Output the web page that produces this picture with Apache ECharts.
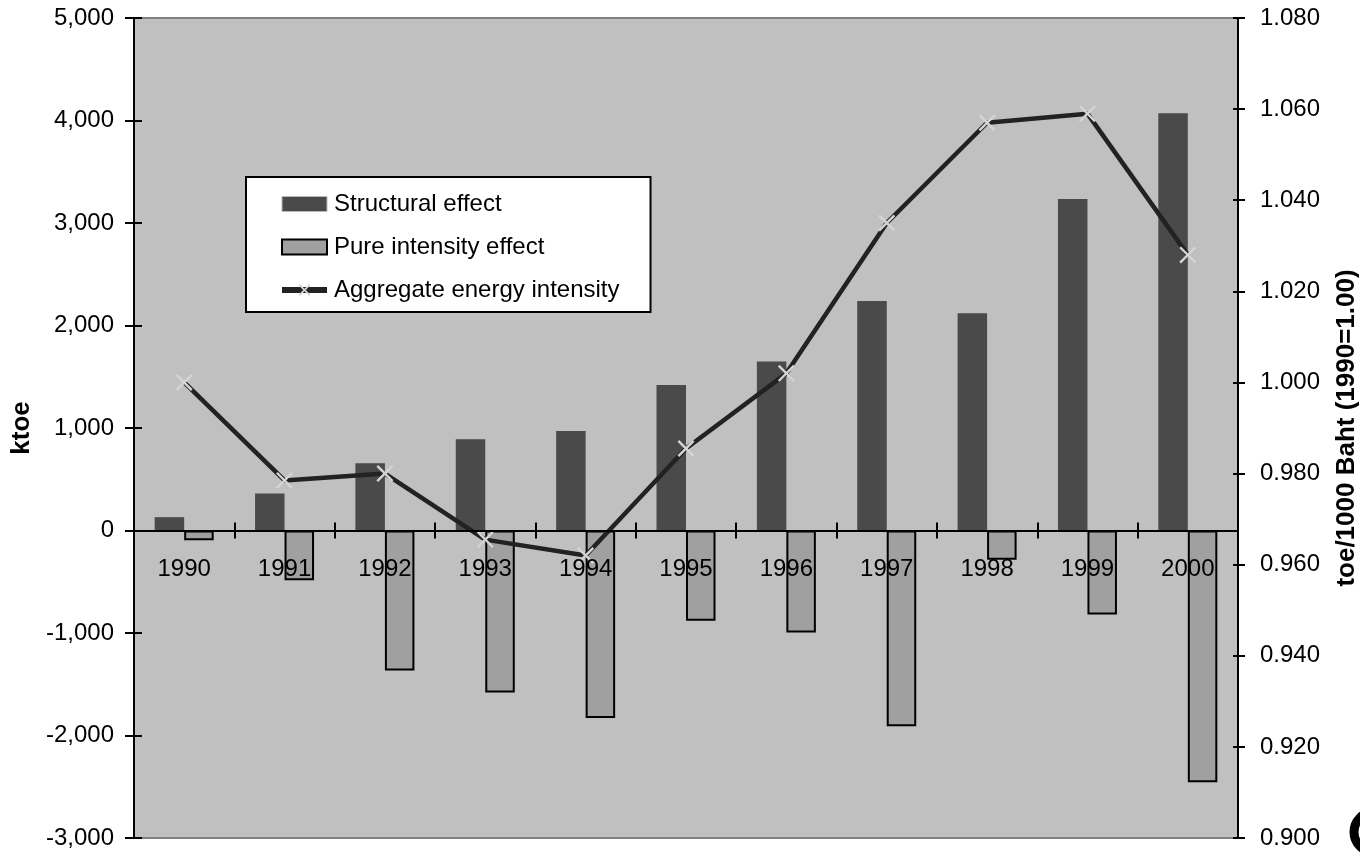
<!DOCTYPE html>
<html>
<head>
<meta charset="utf-8">
<script src="https://cdn.jsdelivr.net/npm/echarts@6/dist/echarts.min.js"></script>
<style>
html,body{margin:0;padding:0;background:#fff;}
#chart{width:1360px;height:852px;}
</style>
</head>
<body>
<div id="chart"></div>
<script>
// ---- data ----
const years = ['1990','1991','1992','1993','1994','1995','1996','1997','1998','1999','2000'];
const structuralEffect = [130, 360, 655, 890, 970, 1420, 1650, 2240, 2120, 3235, 4070];
const pureIntensityEffect = [-95, -485, -1365, -1580, -1830, -880, -995, -1910, -285, -820, -2455];
const aggregateIntensity = [1.000, 0.9785, 0.980, 0.9655, 0.962, 0.9855, 1.002, 1.035, 1.057, 1.059, 1.028];
const leftTicks = {min: -3000, max: 5000, interval: 1000};
const rightTicks = {min: 0.900, max: 1.080, interval: 0.020};

const FONT = '"Liberation Sans", Arial, sans-serif';
const xMark = 'path://M0,1 L1,0 L10,9 L9,10 Z M9,0 L10,1 L1,10 L0,9 Z';

const W = 1360, H = 852;
const GRID = {left: 134, right: 122, top: 18, bottom: 14};
// the category axis sits at value 0 of the left axis: shift it up from the grid bottom
const gridH = H - GRID.top - GRID.bottom;
const zeroOffset = -gridH * (0 - leftTicks.min) / (leftTicks.max - leftTicks.min);

const chart = echarts.init(document.getElementById('chart'), null, {renderer: 'canvas'});

function fmtThousands(v){
  const s = Math.abs(v).toString().replace(/\B(?=(\d{3})+(?!\d))/g, ',');
  return (v < 0 ? '-' : '') + s;
}

const axisLineStyle = {show: true, lineStyle: {color: '#000', width: 2}};

const option = {
  animation: false,
  backgroundColor: '#ffffff',
  textStyle: {fontFamily: FONT},
  grid: {
    left: GRID.left, right: GRID.right, top: GRID.top, bottom: GRID.bottom,
    containLabel: false, outerBoundsMode: 'none',
    show: true, backgroundColor: '#c0c0c0', borderColor: '#808080', borderWidth: 2
  },
  legend: {
    orient: 'vertical',
    left: 246, top: 177,
    padding: [15, 31, 10, 33],
    itemGap: 19,
    itemWidth: 45, itemHeight: 15,
    backgroundColor: '#ffffff',
    borderColor: '#000', borderWidth: 2,
    textStyle: {fontSize: 24, color: '#000', fontFamily: FONT, padding: [0, 0, 0, 2]},
    data: [
      {name: 'Structural effect', icon: 'rect', itemStyle: {borderColor: '#b8b8b8', borderWidth: 1}},
      {name: 'Pure intensity effect', icon: 'rect'},
      {name: 'Aggregate energy intensity', lineStyle: {width: 6, color: '#222222'}}
    ]
  },
  xAxis: [
    {
      type: 'category', data: years, position: 'bottom', z: 10,
      offset: zeroOffset,
      axisLine: {show: true, onZero: false, lineStyle: {color: '#000', width: 2}},
      axisTick: {show: true, inside: false, length: 8, lineStyle: {color: '#000', width: 2}},
      axisLabel: {fontSize: 24, color: '#000', margin: 27, fontFamily: FONT},
      splitLine: {show: false}
    },
    {
      type: 'category', data: years, position: 'bottom', z: 10,
      offset: zeroOffset,
      axisLine: {show: false, onZero: false},
      axisTick: {show: true, inside: true, length: 8, lineStyle: {color: '#000', width: 2}},
      axisLabel: {show: false},
      splitLine: {show: false}
    }
  ],
  yAxis: [
    {
      type: 'value', position: 'left',
      min: leftTicks.min, max: leftTicks.max, interval: leftTicks.interval,
      name: 'ktoe', nameLocation: 'middle', nameGap: 97, nameRotate: 90,
      nameTextStyle: {fontSize: 26, fontWeight: 'bold', color: '#000', fontFamily: FONT},
      axisLine: axisLineStyle,
      axisTick: {show: true, inside: false, length: 9, lineStyle: {color: '#000', width: 2}},
      axisLabel: {fontSize: 24, color: '#000', margin: 20, fontFamily: FONT, formatter: fmtThousands},
      splitLine: {show: false}
    },
    {
      type: 'value', position: 'right',
      min: rightTicks.min, max: rightTicks.max, interval: rightTicks.interval,
      name: 'toe/1000 Baht (1990=1.00)', nameLocation: 'middle', nameGap: 96, nameRotate: 90,
      nameTextStyle: {fontSize: 26, fontWeight: 'bold', color: '#000', fontFamily: FONT},
      axisLine: axisLineStyle,
      axisTick: {show: true, inside: false, length: 7, lineStyle: {color: '#000', width: 2}},
      axisLabel: {fontSize: 24, color: '#000', margin: 22, fontFamily: FONT, formatter: v => v.toFixed(3)},
      splitLine: {show: false}
    },
    {
      type: 'value', position: 'left',
      min: leftTicks.min, max: leftTicks.max, interval: leftTicks.interval,
      axisLine: {show: false},
      axisTick: {show: true, inside: true, length: 8, lineStyle: {color: '#000', width: 2}},
      axisLabel: {show: false}, splitLine: {show: false}
    },
    {
      type: 'value', position: 'right',
      min: rightTicks.min, max: rightTicks.max, interval: rightTicks.interval,
      axisLine: {show: false},
      axisTick: {show: true, inside: true, length: 5, lineStyle: {color: '#000', width: 2}},
      axisLabel: {show: false}, splitLine: {show: false}
    }
  ],
  series: [
    {
      name: 'Structural effect', type: 'bar', xAxisIndex: 0, yAxisIndex: 0,
      data: structuralEffect,
      barWidth: 29.5, barGap: '0%',
      itemStyle: {color: '#4a4a4a'},
      z: 2
    },
    {
      name: 'Pure intensity effect', type: 'bar', xAxisIndex: 0, yAxisIndex: 0,
      data: pureIntensityEffect,
      barWidth: 29.5, barGap: '0%',
      itemStyle: {color: '#a0a0a0', borderColor: '#000', borderWidth: 2},
      z: 2
    },
    {
      name: 'Aggregate energy intensity', type: 'line', xAxisIndex: 0, yAxisIndex: 1,
      data: aggregateIntensity,
      symbol: xMark, symbolSize: 17,
      itemStyle: {color: '#d4d4d4', borderWidth: 0},
      lineStyle: {color: '#222222', width: 4.5},
      z: 5
    }
  ],
  graphic: [
    {
      type: 'arc',
      shape: {cx: 1374, cy: 832, r: 20, startAngle: 0, endAngle: Math.PI * 2},
      style: {stroke: '#000', lineWidth: 9, fill: null},
      silent: true
    }
  ]
};
chart.setOption(option);
</script>
</body>
</html>
